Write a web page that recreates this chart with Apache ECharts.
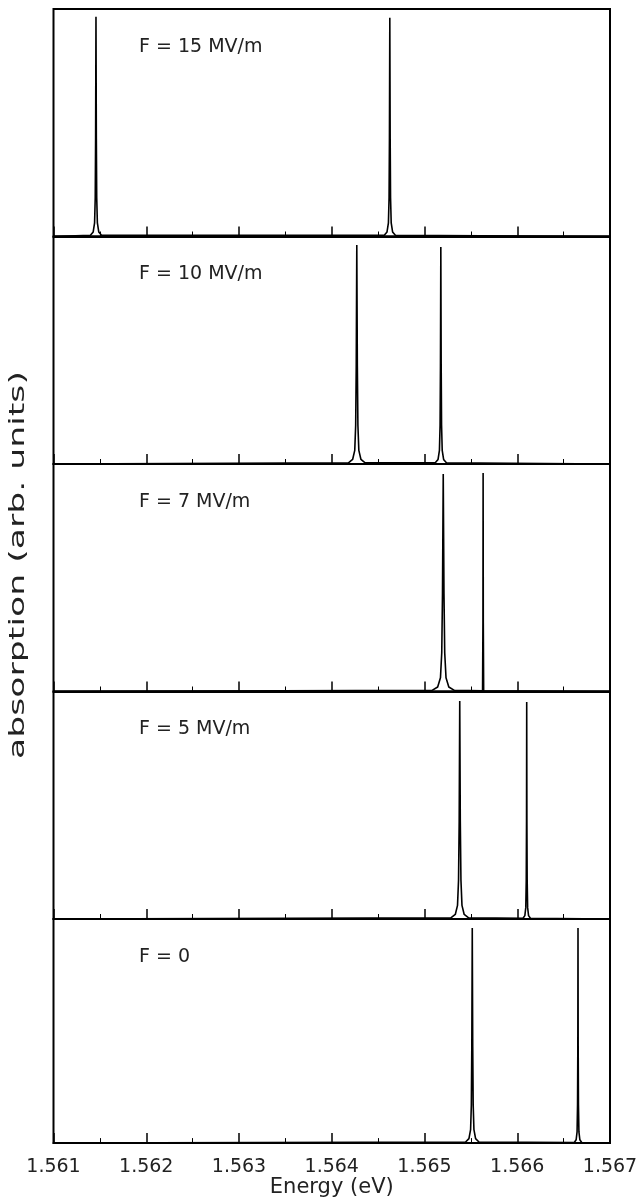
<!DOCTYPE html>
<html><head><meta charset="utf-8">
<script src="https://cdn.jsdelivr.net/npm/echarts@6/dist/echarts.min.js"></script>
<style>html,body{margin:0;padding:0;background:#fff}#c{width:642px;height:1199px}</style>
</head><body><div id="c"></div>
<script>
// x axis
const xMin = 1.561, xMax = 1.567, xStep = 0.001;
const xTickLabels = ['1.561','1.562','1.563','1.564','1.565','1.566','1.567'];
const xTitle = 'Energy (eV)';
const yTitle = 'absorption (arb. units)';
const panelLabels = ['F = 15 MV/m', 'F = 10 MV/m', 'F = 7 MV/m', 'F = 5 MV/m', 'F = 0'];

// spectra [energy (eV), absorption (arb.)]
const specF15 = [
  [1.561000,0],[1.561398,0.005],[1.561428,0.02],[1.561443,0.06],[1.561450,0.17],[1.561454,0.43],
  [1.561458,0.966],[1.561462,0.43],[1.561466,0.17],[1.561473,0.06],[1.561488,0.02],[1.561518,0.005],
  [1.564566,0.005],[1.564596,0.02],[1.564611,0.06],[1.564618,0.17],[1.564622,0.43],
  [1.564626,0.962],[1.564630,0.43],[1.564634,0.17],[1.564641,0.06],[1.564656,0.02],[1.564686,0.005],
  [1.567000,0]
];
const specF10 = [
  [1.561000,0],[1.564180,0.005],[1.564225,0.02],[1.564248,0.06],[1.564258,0.17],[1.564264,0.43],
  [1.564270,0.963],[1.564276,0.43],[1.564282,0.17],[1.564292,0.06],[1.564315,0.02],[1.564360,0.005],
  [1.565116,0.005],[1.565146,0.02],[1.565161,0.06],[1.565168,0.17],[1.565172,0.43],
  [1.565176,0.954],[1.565180,0.43],[1.565184,0.17],[1.565191,0.06],[1.565206,0.02],[1.565236,0.005],
  [1.567000,0]
];
const specF7 = [
  [1.561000,0],[1.565082,0.005],[1.565142,0.02],[1.565172,0.06],[1.565186,0.17],[1.565194,0.43],
  [1.565202,0.956],[1.565210,0.43],[1.565218,0.17],[1.565232,0.06],[1.565262,0.02],[1.565322,0.005],
  [1.565626,0.003],[1.565630,0.3],[1.565632,0.96],[1.565634,0.3],[1.565638,0.003],
  [1.567000,0]
];
const specF5 = [
  [1.561000,0],[1.565284,0.005],[1.565332,0.02],[1.565356,0.06],[1.565367,0.17],[1.565374,0.43],
  [1.565380,0.958],[1.565386,0.43],[1.565393,0.17],[1.565404,0.06],[1.565428,0.02],[1.565476,0.005],
  [1.566062,0.003],[1.566082,0.015],[1.566092,0.05],[1.566097,0.17],[1.566100,0.43],
  [1.566102,0.954],[1.566104,0.43],[1.566107,0.17],[1.566112,0.05],[1.566122,0.015],[1.566142,0.003],
  [1.567000,0]
];
const specF0 = [
  [1.561000,0],[1.565443,0.005],[1.565479,0.02],[1.565497,0.06],[1.565505,0.17],[1.565510,0.43],
  [1.565515,0.96],[1.565520,0.43],[1.565525,0.17],[1.565533,0.06],[1.565551,0.02],[1.565587,0.005],
  [1.566615,0.003],[1.566635,0.015],[1.566645,0.05],[1.566650,0.17],[1.566653,0.43],
  [1.566655,0.96],[1.566657,0.43],[1.566660,0.17],[1.566665,0.05],[1.566675,0.015],[1.566695,0.003],
  [1.567000,0]
];
const spectra = [specF15, specF10, specF7, specF5, specF0];

const chart = echarts.init(document.getElementById('c'), null, {renderer: 'canvas'});
const FONT = 'DejaVu Sans';
const plotLeft = 53.5, plotRight = 32, plotTop = 9, panelH = 227.5;
const n = spectra.length;
const grids = [], xAxes = [], yAxes = [], series = [], graphics = [];
for (let i = 0; i < n; i++) {
  const top = plotTop + i * panelH;
  const last = i === n - 1;
  grids.push({left: plotLeft, right: plotRight, top: top, height: panelH,
    show: true, borderColor: '#000', borderWidth: 2, backgroundColor: 'transparent'});
  xAxes.push({
    type: 'value', gridIndex: i, min: xMin, max: xMax, interval: xStep,
    axisLine: {show: true, onZero: false, lineStyle: {color: '#000', width: 2}},
    axisTick: {show: true, inside: true, length: 10, lineStyle: {color: '#000', width: 1.5}},
    minorTick: {show: true, splitNumber: 2, length: 5, lineStyle: {color: '#000', width: 1}},
    splitLine: {show: false}, minorSplitLine: {show: false},
    axisLabel: {show: last, margin: 14, color: '#222', fontFamily: FONT, fontSize: 19,
      formatter: function (v) { const k = Math.round((v - xMin) / xStep); return xTickLabels[k] || ''; }},
    name: last ? xTitle : '', nameLocation: 'middle', nameGap: 33,
    nameTextStyle: {color: '#222', fontFamily: FONT, fontSize: 21}
  });
  yAxes.push({type: 'value', gridIndex: i, min: 0, max: 1, show: false});
  series.push({type: 'line', xAxisIndex: i, yAxisIndex: i, data: spectra[i],
    showSymbol: false, symbol: 'none', clip: true,
    lineStyle: {color: '#000', width: 1.6}});
  graphics.push({type: 'text', x: 139, y: top + 38,
    style: {text: panelLabels[i], fill: '#222', font: '19px "' + FONT + '"', textVerticalAlign: 'middle'}});
}
graphics.push({type: 'text', x: 19, y: 565, rotation: Math.PI / 2, scaleX: 1.65,
  style: {text: yTitle, fill: '#222', font: '21px "' + FONT + '"', textAlign: 'center', textVerticalAlign: 'middle'}});

chart.setOption({
  animation: false, backgroundColor: '#fff',
  grid: grids, xAxis: xAxes, yAxis: yAxes, series: series, graphic: graphics
});
</script></body></html>
